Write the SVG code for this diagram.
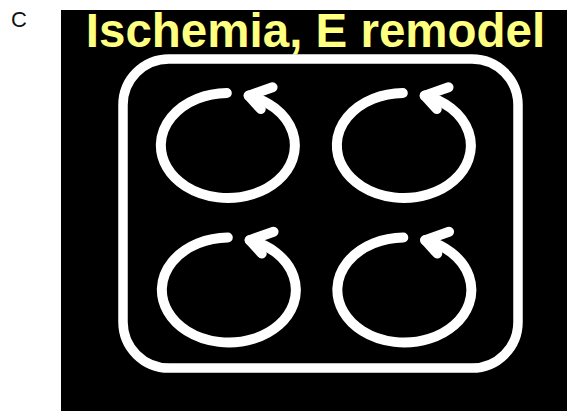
<svg xmlns="http://www.w3.org/2000/svg" width="567" height="411" viewBox="0 0 567 411">
  <style>
    .panel-letter { font-family: "Liberation Sans", Arial, sans-serif; font-size: 22px; fill: #111; }
    .title { font-family: "Liberation Sans", Arial, sans-serif; font-size: 47.5px; font-weight: bold; fill: #ffff80; }
    .frame { fill: none; stroke: #ffffff; stroke-width: 9.5; }
    .cycle { fill: none; stroke: #ffffff; stroke-width: 10; stroke-linecap: round; marker-end: url(#chevron); }
  </style>
  <defs>
    <marker id="chevron" markerUnits="userSpaceOnUse" orient="auto" refX="0" refY="0" markerWidth="60" markerHeight="60" viewBox="-30 -30 60 60" overflow="visible">
      <path d="M -21 14 L 0 0 L -15 -10" fill="none" stroke="#ffffff" stroke-width="10" stroke-linecap="round" stroke-linejoin="round"/>
    </marker>
  </defs>

  <rect x="0" y="0" width="567" height="411" fill="#ffffff"/>
  <text class="panel-letter" x="11" y="26.5">C</text>

  <rect id="panel" x="61" y="10" width="506" height="401" fill="#000000"/>
  <text class="title" x="315.5" y="46.7" text-anchor="middle">Ischemia, E remodel</text>

  <g id="frame">
    <rect class="frame" x="123" y="59" width="395" height="309" rx="46" ry="46"/>
  </g>

  <g id="connectors">
    <g id="cycle-top-left">
      <path class="cycle" d="M 226.8 93 A 67 52.5 0 1 0 248.7 95.6"/>
    </g>
    <g id="cycle-top-right">
      <path class="cycle" d="M 402.8 93 A 67 52.5 0 1 0 424.7 95.6"/>
    </g>
    <g id="cycle-bottom-left">
      <path class="cycle" d="M 227.8 237.5 A 67 52.5 0 1 0 249.7 240.1"/>
    </g>
    <g id="cycle-bottom-right">
      <path class="cycle" d="M 403.3 237.5 A 67 52.5 0 1 0 425.2 240.1"/>
    </g>
  </g>
</svg>
